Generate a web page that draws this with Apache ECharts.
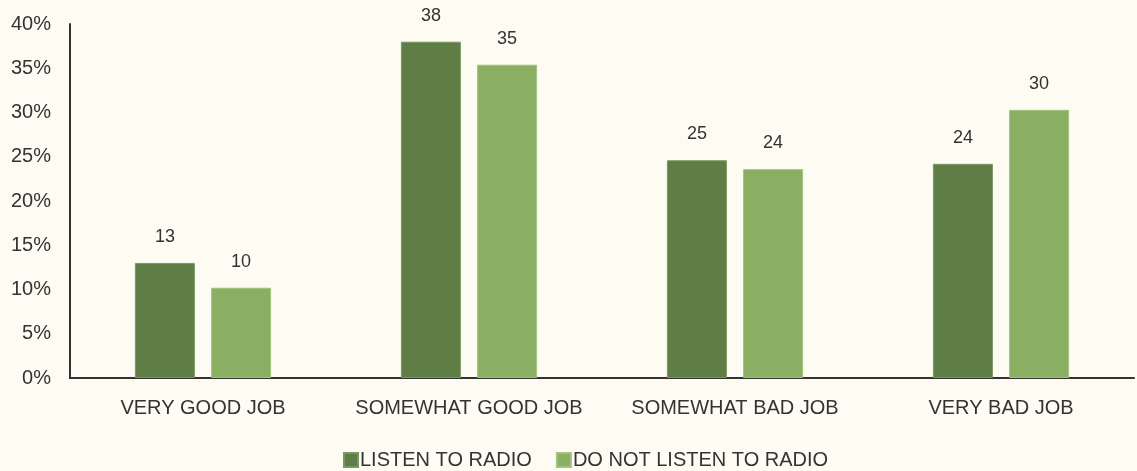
<!DOCTYPE html>
<html><head><meta charset="utf-8">
<script src="https://cdn.jsdelivr.net/npm/echarts@6/dist/echarts.min.js"></script>
<style>html,body{margin:0;padding:0;background:#FEFCF2;}#c{width:1137px;height:471px;}</style>
</head><body><div id="c"></div>
<script>
var categories = ['VERY GOOD JOB', 'SOMEWHAT GOOD JOB', 'SOMEWHAT BAD JOB', 'VERY BAD JOB'];
var listen = [13.0, 38.0, 24.6, 24.2];
var notListen = [10.2, 35.4, 23.6, 30.3];
var seriesNames = ['LISTEN TO RADIO', 'DO NOT LISTEN TO RADIO'];
var font = 'Liberation Sans, Arial, sans-serif';
var chart = echarts.init(document.getElementById('c'));
function lbl() {
  return {show: true, position: 'top', distance: 17, color: '#333', fontSize: 18, fontFamily: font,
    formatter: function (p) { return Math.round(p.value); }};
}
chart.setOption({
  backgroundColor: '#FEFCF2',
  animation: false,
  grid: {left: 70, right: 3, top: 24, bottom: 93},
  legend: {bottom: -4, left: 338, itemWidth: 14, itemHeight: 14, itemGap: 24, icon: 'rect',
    textStyle: {color: '#333', fontSize: 20, fontFamily: font, padding: [0,0,0,-3]},
    data: seriesNames},
  xAxis: {type: 'category', data: categories,
    axisLine: {lineStyle: {color: '#333', width: 2}}, axisTick: {show: false},
    axisLabel: {color: '#333', fontSize: 20, fontFamily: font, margin: 20, interval: 0}},
  yAxis: {type: 'value', min: 0, max: 40, interval: 5,
    axisLine: {show: true, lineStyle: {color: '#333', width: 2}}, axisTick: {show: false},
    splitLine: {show: false},
    axisLabel: {color: '#333', fontSize: 20, fontFamily: font, margin: 19, formatter: '{value}%'}},
  series: [
    {name: seriesNames[0], type: 'bar', data: listen, barWidth: 60, barGap: '27%',
      itemStyle: {color: '#5E7E45', borderColor: '#7A9763', borderWidth: 1}, label: lbl()},
    {name: seriesNames[1], type: 'bar', data: notListen, barWidth: 60,
      itemStyle: {color: '#8AAF62', borderColor: '#A3C180', borderWidth: 1}, label: lbl()}
  ]
});
</script></body></html>
